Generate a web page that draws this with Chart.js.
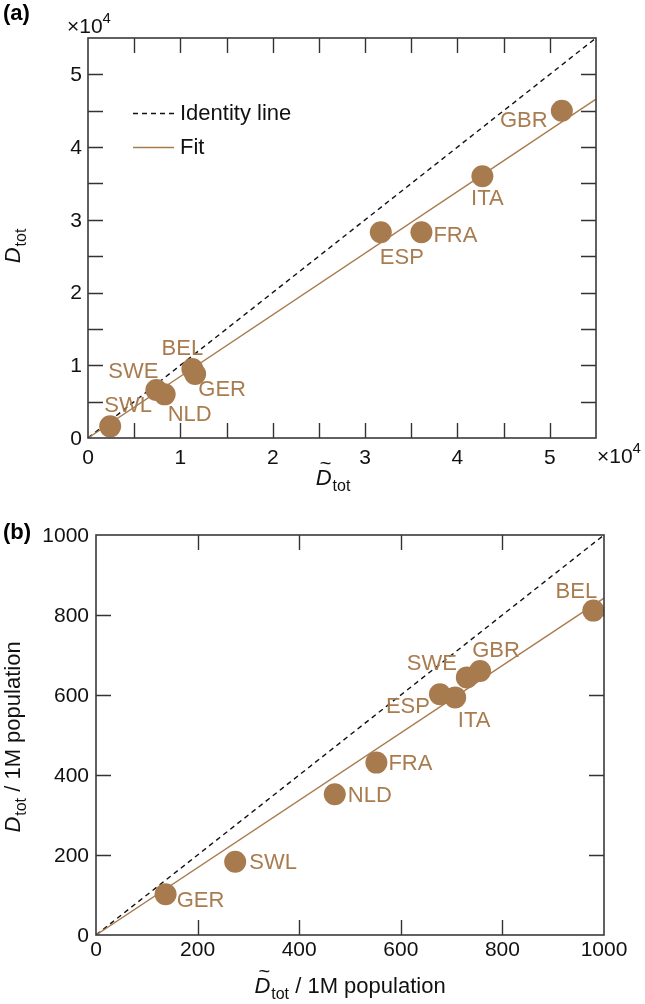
<!DOCTYPE html>
<html><head><meta charset="utf-8">
<script src="https://cdn.jsdelivr.net/npm/chart.js@4/dist/chart.umd.min.js"></script>
<style>
html,body{margin:0;padding:0;background:#fff;}
#wrap{position:relative;width:645px;height:1004px;overflow:hidden;}
canvas{position:absolute;left:0;}
#ca{top:0;} #cb{top:500px;}
</style></head><body>
<div id="wrap">
<canvas id="ca" width="645" height="500"></canvas>
<canvas id="cb" width="645" height="504"></canvas>
</div>
<script>
// ---------- Panel (a) data: totals ----------
const countriesA = ['GBR','ITA','FRA','ESP','BEL','GER','SWE','NLD','SWL'];
const predictedA = [51300, 42700, 36100, 31700, 11300, 11600, 7400, 8300, 2400];
const observedA  = [45000, 36000, 28300, 28300, 9500, 8800, 6600, 6000, 1600];
const fitXA = [0, 55000];
const fitYA = [0, 46600];
const identityA = [0, 55000];
const tickValuesA = [0, 10000, 20000, 30000, 40000, 50000];
const tickLabelsA = ['0','1','2','3','4','5'];

// ---------- Panel (b) data: per 1M population ----------
const countriesB = ['BEL','GBR','SWE','ESP','ITA','FRA','NLD','SWL','GER'];
const predictedB = [979, 756, 730, 677, 707, 552, 470, 274, 137];
const observedB  = [811, 660, 644, 602, 594, 431, 352, 183, 102];
const fitXB = [0, 1000];
const fitYB = [0, 842];
const identityB = [0, 1000];
const tickValuesB = [0, 200, 400, 600, 800, 1000];
const tickLabelsB = ['0','200','400','600','800','1000'];

// ---------- styling / layout (not data) ----------
const BROWN = '#A87B4F';
const LABEL_BROWN = '#A97C50';
const FONT = '"Liberation Sans", Arial, Helvetica, sans-serif';
const labelOffsetsA = {GBR:[-38,9], ITA:[5,22], FRA:[34,3], ESP:[21,25], BEL:[-10,-21], GER:[27,15], SWE:[-23,-19], NLD:[25,20], SWL:[18,-21]};
const labelOffsetsB = {BEL:[-17,-20], GBR:[16,-21], SWE:[-35,-14], ESP:[-32,12], ITA:[19,23], FRA:[34,0], NLD:[35,1], SWL:[38,0], GER:[35,6]};

function drawDLabel(ctx, x, y, tilde, suffix, rotated){
  ctx.save();
  ctx.translate(x, y);
  if (rotated) ctx.rotate(-Math.PI/2);
  const fMain = 'italic 22px ' + FONT, fSub = '16px ' + FONT, fReg = '22px ' + FONT;
  ctx.font = fMain; const wD = ctx.measureText('D').width;
  ctx.font = fSub; const wS = ctx.measureText('tot').width;
  ctx.font = fReg; const wR = suffix ? ctx.measureText(suffix).width : 0;
  const total = wD + 1 + wS + wR;
  let cx = -total/2;
  ctx.fillStyle = '#111'; ctx.textBaseline = 'alphabetic'; ctx.textAlign = 'left';
  ctx.font = fMain; ctx.fillText('D', cx, 0);
  if (tilde){
    ctx.font = '20px ' + FONT;
    const wt = ctx.measureText('~').width;
    ctx.fillText('~', cx + wD/2 - wt/2 + 2, -15);
  }
  cx += wD + 1;
  ctx.font = fSub; ctx.fillText('tot', cx, 6); cx += wS;
  if (suffix){ ctx.font = fReg; ctx.fillText(suffix, cx, 0); }
  ctx.restore();
}

function drawTimes(ctx, x, y){
  ctx.save();
  ctx.fillStyle = '#111'; ctx.textBaseline = 'alphabetic'; ctx.textAlign = 'left';
  ctx.font = '21px ' + FONT;
  ctx.fillText('\u00d710', x, y);
  const w = ctx.measureText('\u00d710').width;
  ctx.font = '15px ' + FONT;
  ctx.fillText('4', x + w, y - 10);
  ctx.restore();
}

function makeDeco(o){
  return {
    id: 'deco' + o.name,
    beforeDatasetsDraw(chart){
      const ctx = chart.ctx, a = chart.chartArea;
      const xs = chart.scales.x, ys = chart.scales.y;
      ctx.save();
      ctx.strokeStyle = '#333'; ctx.lineWidth = 1.4;
      ctx.beginPath();
      xs.ticks.forEach(t => {
        const px = Math.round(xs.getPixelForValue(t.value)) + 0.5;
        if (px <= a.left + 1 || px >= a.right - 1) return;
        ctx.moveTo(px, a.bottom); ctx.lineTo(px, a.bottom - o.tickLen);
        ctx.moveTo(px, a.top); ctx.lineTo(px, a.top + o.tickLen);
      });
      ys.ticks.forEach(t => {
        const py = Math.round(ys.getPixelForValue(t.value)) + 0.5;
        if (py <= a.top + 1 || py >= a.bottom - 1) return;
        ctx.moveTo(a.left, py); ctx.lineTo(a.left + o.tickLen, py);
        ctx.moveTo(a.right, py); ctx.lineTo(a.right - o.tickLen, py);
      });
      ctx.stroke();
      ctx.restore();
    },
    afterDatasetsDraw(chart){
      const ctx = chart.ctx, a = chart.chartArea;
      const xs = chart.scales.x, ys = chart.scales.y;
      ctx.save();
      ctx.strokeStyle = '#3a3a3a'; ctx.lineWidth = 1.6;
      ctx.strokeRect(a.left, a.top, a.right - a.left, a.bottom - a.top);
      ctx.fillStyle = '#111'; ctx.font = '21px ' + FONT;
      ctx.textAlign = 'center'; ctx.textBaseline = 'middle';
      o.tickValues.forEach((v, i) => {
        ctx.fillText(o.tickLabels[i], xs.getPixelForValue(v), a.bottom + o.xLabGap);
      });
      ctx.textAlign = 'right';
      o.tickValues.forEach((v, i) => {
        ctx.fillText(o.tickLabels[i], a.left - o.yLabGap, ys.getPixelForValue(v) + 1);
      });
      const meta = chart.getDatasetMeta(0);
      ctx.fillStyle = LABEL_BROWN; ctx.font = '22px ' + FONT;
      ctx.textAlign = 'center'; ctx.textBaseline = 'middle';
      meta.data.forEach((pt, i) => {
        const name = o.names[i];
        const off = o.offsets[name];
        ctx.fillText(name, pt.x + off[0], pt.y + off[1] + 1);
      });
      ctx.fillStyle = '#000'; ctx.font = 'bold 22px ' + FONT;
      ctx.textAlign = 'left'; ctx.textBaseline = 'middle';
      ctx.fillText(o.letter, o.letterPos[0], o.letterPos[1]);
      ctx.restore();
      o.extra && o.extra(chart, ctx, a);
    }
  };
}

function baseOptions(pad, xMax, yMax, step){
  const sc = (max) => ({
    type: 'linear', min: 0, max: max,
    ticks: { display: false, stepSize: step, autoSkip: false },
    grid: { display: false, drawTicks: false },
    border: { display: false },
    title: { display: false }
  });
  const x = sc(xMax), y = sc(yMax);
  x.afterFit = s => { s.height = 0; };
  y.afterFit = s => { s.width = 0; };
  return {
    responsive: false, animation: false, devicePixelRatio: 1, events: [],
    layout: { padding: pad, autoPadding: false },
    plugins: { legend: { display: false }, tooltip: { enabled: false }, title: { display: false } },
    scales: { x: x, y: y }
  };
}

function pts(xs, ys){ return xs.map((v, i) => ({ x: v, y: ys[i] })); }

function datasets(px, py, fx, fy, idv){
  return [
    { label: 'countries', data: pts(px, py), backgroundColor: BROWN, borderWidth: 0,
      pointRadius: 11, pointHoverRadius: 11, showLine: false, order: 0, clip: false },
    { label: 'Fit', data: pts(fx, fy), showLine: true, borderColor: BROWN, borderWidth: 1.4,
      pointRadius: 0, fill: false, order: 1 },
    { label: 'Identity line', data: pts(idv, idv), showLine: true, borderColor: '#111', borderWidth: 1.4,
      borderDash: [5, 4], pointRadius: 0, fill: false, order: 2 }
  ];
}

new Chart(document.getElementById('ca'), {
  type: 'scatter',
  data: { datasets: datasets(predictedA, observedA, fitXA, fitYA, identityA) },
  options: baseOptions({ left: 88, top: 38, right: 49, bottom: 62 }, 55000, 55000, 5000),
  plugins: [makeDeco({
    name: 'A', tickLen: 15, xLabGap: 20, yLabGap: 6,
    tickValues: tickValuesA, tickLabels: tickLabelsA,
    names: countriesA, offsets: labelOffsetsA, letter: '(a)', letterPos: [3, 14],
    extra(chart, ctx, a){
      ctx.save();
      ctx.lineWidth = 1.4;
      ctx.strokeStyle = '#111'; ctx.setLineDash([5, 4]);
      ctx.beginPath(); ctx.moveTo(133, 113.5); ctx.lineTo(174, 113.5); ctx.stroke();
      ctx.setLineDash([]); ctx.strokeStyle = BROWN;
      ctx.beginPath(); ctx.moveTo(133, 147.5); ctx.lineTo(174, 147.5); ctx.stroke();
      ctx.fillStyle = '#111'; ctx.font = '22px ' + FONT;
      ctx.textAlign = 'left'; ctx.textBaseline = 'middle';
      ctx.fillText('Identity line', 180, 114);
      ctx.fillText('Fit', 180, 148);
      ctx.restore();
      drawTimes(ctx, 67, 33);
      drawTimes(ctx, 597, 463);
      drawDLabel(ctx, 333, 485, true, '', false);
      drawDLabel(ctx, 20, 246, false, '', true);
    }
  })]
});

new Chart(document.getElementById('cb'), {
  type: 'scatter',
  data: { datasets: datasets(predictedB, observedB, fitXB, fitYB, identityB) },
  options: baseOptions({ left: 96, top: 35, right: 41, bottom: 69 }, 1000, 1000, 200),
  plugins: [makeDeco({
    name: 'B', tickLen: 15, xLabGap: 15, yLabGap: 7,
    tickValues: tickValuesB, tickLabels: tickLabelsB,
    names: countriesB, offsets: labelOffsetsB, letter: '(b)', letterPos: [3, 33],
    extra(chart, ctx, a){
      drawDLabel(ctx, 350, 493, true, ' / 1M population', false);
      drawDLabel(ctx, 20, 237, false, ' / 1M population', true);
    }
  })]
});
</script>
</body></html>
